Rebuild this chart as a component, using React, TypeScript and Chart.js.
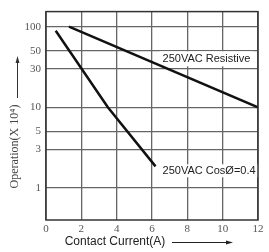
import { useEffect, useRef } from "react";
import { Chart, registerables } from "chart.js";
Chart.register(...registerables);

const currentTicks = [0, 2, 4, 6, 8, 10, 12];
const operationTicks = [1, 3, 5, 10, 30, 50, 100];
const resistiveCurrent = [1.3, 12];
const resistiveOps = [100, 10];
const inductiveCurrent = [0.55, 3.5, 6.2];
const inductiveOps = [89, 10, 1.85];
const resistiveLabel = "250VAC Resistive";
const inductiveLabel = "250VAC CosØ=0.4";
const xTitle = "Contact Current(A)";
const yTitle = "Operation(X 10⁴)";

const toPoints = (xs: number[], ys: number[]) => xs.map((x, i) => ({ x, y: ys[i] }));

const decor = {
  id: "decor",
  beforeDatasetsDraw(chart: any) {
    const { ctx, scales } = chart;
    const x = scales.x, y = scales.y;
    ctx.save();
    ctx.font = '11px "Liberation Sans", Arial, sans-serif';
    ctx.textBaseline = "middle";
    const label = (text: string, xv: number, yv: number, h: number) => {
      const px = x.getPixelForValue(xv);
      const py = y.getPixelForValue(yv);
      const w = ctx.measureText(text).width;
      ctx.fillStyle = "#fff";
      ctx.fillRect(px - 3, py - h / 2, w + 6, h);
      ctx.fillStyle = "#222";
      ctx.fillText(text, px, py);
    };
    label(resistiveLabel, 6.6, 40, 15);
    label(inductiveLabel, 6.6, 1.63, 13);
    ctx.restore();
  },
  afterDraw(chart: any) {
    const { ctx, chartArea: a } = chart;
    ctx.save();
    ctx.strokeStyle = "#333";
    ctx.lineWidth = 1.5;
    ctx.strokeRect(a.left, a.top, a.right - a.left, a.bottom - a.top);

    // x title + arrow
    ctx.fillStyle = "#222";
    ctx.font = '12px "Liberation Sans", Arial, sans-serif';
    ctx.textAlign = "center";
    ctx.textBaseline = "middle";
    ctx.fillText(xTitle, 115, 242);
    ctx.strokeStyle = "#222";
    ctx.lineWidth = 1;
    ctx.beginPath();
    ctx.moveTo(172, 242.5);
    ctx.lineTo(228, 242.5);
    ctx.stroke();
    ctx.beginPath();
    ctx.moveTo(233, 242.5);
    ctx.lineTo(226, 240.5);
    ctx.lineTo(226, 244.5);
    ctx.closePath();
    ctx.fill();

    // y title + arrow
    ctx.save();
    ctx.translate(15, 146.5);
    ctx.rotate(-Math.PI / 2);
    ctx.fillStyle = "#444";
    ctx.font = '12px "Liberation Serif", "Times New Roman", serif';
    ctx.fillText(yTitle, 0, 0);
    ctx.restore();
    ctx.strokeStyle = "#333";
    ctx.beginPath();
    ctx.moveTo(17.5, 98);
    ctx.lineTo(17.5, 62);
    ctx.stroke();
    ctx.fillStyle = "#333";
    ctx.beginPath();
    ctx.moveTo(17.5, 56);
    ctx.lineTo(15.5, 63);
    ctx.lineTo(19.5, 63);
    ctx.closePath();
    ctx.fill();
    ctx.restore();
  },
};

export default function App() {
  const ref = useRef<HTMLCanvasElement>(null);
  useEffect(() => {
    document.body.style.margin = "0";
    const chart = new Chart(ref.current!, {
      type: "line",
      data: {
        datasets: [
          {
            data: toPoints(resistiveCurrent, resistiveOps),
            borderColor: "#111",
            borderWidth: 2.5,
            pointRadius: 0,
            tension: 0,
          },
          {
            data: toPoints(inductiveCurrent, inductiveOps),
            borderColor: "#111",
            borderWidth: 2.5,
            pointRadius: 0,
            tension: 0,
          },
        ],
      },
      options: {
        animation: false,
        responsive: false,
        devicePixelRatio: 1,
        layout: { padding: { top: 8, right: 11, left: 0, bottom: 0 } },
        plugins: { legend: { display: false }, tooltip: { enabled: false } },
        scales: {
          x: {
            type: "linear",
            min: 0,
            max: 12,
            afterBuildTicks: (s: any) => {
              s.ticks = currentTicks.map((v) => ({ value: v }));
            },
            afterFit: (s: any) => {
              s.height = 32;
            },
            grid: { color: "#666", lineWidth: 1.3, drawTicks: false },
            border: { display: false },
            ticks: {
              padding: 3,
              color: "#555",
              font: { family: '"Liberation Serif", "Times New Roman", serif', size: 11 },
              callback: (v: any) => String(v),
            },
          },
          y: {
            type: "logarithmic",
            min: 0.4,
            max: 154,
            afterBuildTicks: (s: any) => {
              s.ticks = operationTicks.map((v) => ({ value: v }));
            },
            afterFit: (s: any) => {
              s.width = 46;
            },
            grid: { color: "#666", lineWidth: 1.3, drawTicks: false },
            border: { display: false },
            ticks: {
              padding: 5,
              color: "#555",
              font: { family: '"Liberation Serif", "Times New Roman", serif', size: 11 },
              callback: (v: any) => String(v),
            },
          },
        },
      },
      plugins: [decor],
    } as any);
    return () => chart.destroy();
  }, []);
  return (
    <div style={{ width: 269, height: 252 }}>
      <canvas ref={ref} width={269} height={252} />
    </div>
  );
}
